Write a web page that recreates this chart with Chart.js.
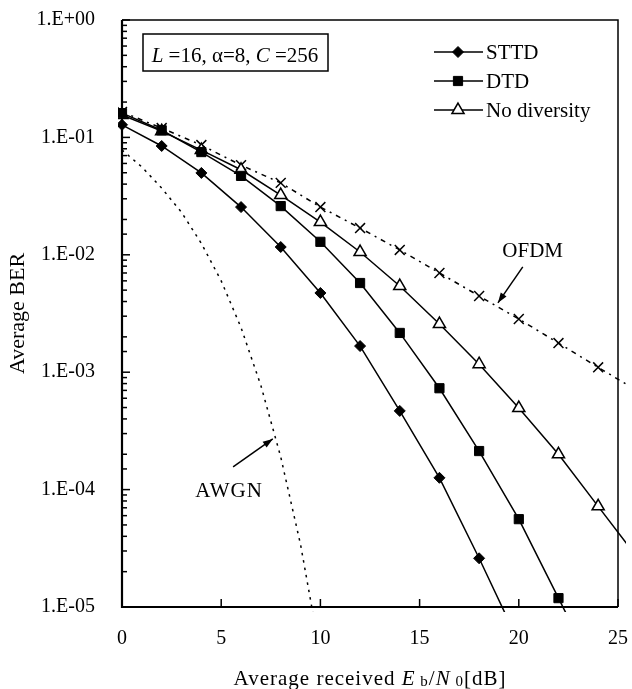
<!DOCTYPE html>
<html>
<head>
<meta charset="utf-8">
<script src="https://cdn.jsdelivr.net/npm/chart.js@4.4.0/dist/chart.umd.min.js"></script>
<style>
body { margin: 0; background: #fff; }
</style>
</head>
<body>
<canvas id="myChart" width="632" height="689"></canvas>
<script>
// Eb/N0 in dB
const snr = [0, 2, 4, 6, 8, 10, 12, 14, 16, 18, 20, 22, 24, 26];
const awgnSnr = [0, 1, 2, 3, 4, 5, 6, 7, 8, 9, 10];

const sttdBer = [0.128, 0.0845, 0.0498, 0.0255, 0.01165, 0.00473, 0.00167, 4.68e-4, 1.26e-4, 2.6e-5, 5e-6];
const dtdBer = [0.161, 0.115, 0.075, 0.047, 0.026, 0.0129, 0.00575, 0.00216, 7.3e-4, 2.13e-4, 5.6e-5, 1.19e-5, 2.5e-6];
const noDivBer = [0.155, 0.113, 0.078, 0.053, 0.0323, 0.019, 0.01056, 0.00542, 0.00257, 0.00117, 4.95e-4, 2.0e-4, 7.2e-5, 2.6e-5];
const ofdmBer = [0.165, 0.12, 0.086, 0.058, 0.041, 0.0255, 0.0169, 0.011, 0.007, 0.00446, 0.00284, 0.00177, 0.0011, 6.9e-4];
const awgnBer = [0.078, 0.056, 0.037, 0.023, 0.0125, 0.006, 0.0024, 7.7e-4, 1.9e-4, 3.4e-5, 3.9e-6];

const legendNames = ['STTD', 'DTD', 'No diversity'];

const serif = '"Liberation Serif", "Times New Roman", serif';

function toPoints(xs, ys) {
    return ys.map(function (v, i) { return { x: xs[i], y: v }; });
}

function drawRuns(ctx, runs, x, y, align) {
    let total = 0;
    runs.forEach(function (r) {
        ctx.font = r.font;
        r.w = ctx.measureText(r.t).width;
        total += r.w;
    });
    let cx = align === 'center' ? x - total / 2 : x;
    runs.forEach(function (r) {
        ctx.font = r.font;
        ctx.fillText(r.t, cx, y + (r.dy || 0));
        cx += r.w;
    });
}

function arrow(ctx, x1, y1, x2, y2) {
    ctx.beginPath();
    ctx.moveTo(x1, y1);
    ctx.lineTo(x2, y2);
    ctx.stroke();
    const a = Math.atan2(y2 - y1, x2 - x1);
    ctx.beginPath();
    ctx.moveTo(x2, y2);
    ctx.lineTo(x2 - 10 * Math.cos(a) + 3.5 * Math.sin(a), y2 - 10 * Math.sin(a) - 3.5 * Math.cos(a));
    ctx.lineTo(x2 - 10 * Math.cos(a) - 3.5 * Math.sin(a), y2 - 10 * Math.sin(a) + 3.5 * Math.cos(a));
    ctx.closePath();
    ctx.fill();
}

const clipArea = { left: 4, right: 8, top: 4, bottom: 5 };

const extras = {
    id: 'extras',
    afterDraw(chart) {
        const ctx = chart.ctx;
        const a = chart.chartArea;
        const xs = chart.scales.x;
        const ys = chart.scales.y;
        ctx.save();
        ctx.strokeStyle = '#000';
        ctx.fillStyle = '#000';

        // frame
        ctx.lineWidth = 1.5;
        ctx.beginPath();
        ctx.moveTo(a.left, a.top);
        ctx.lineTo(a.right, a.top);
        ctx.lineTo(a.right, a.bottom);
        ctx.stroke();
        ctx.lineWidth = 2.2;
        ctx.beginPath();
        ctx.moveTo(a.left, a.top);
        ctx.lineTo(a.left, a.bottom);
        ctx.lineTo(a.right, a.bottom);
        ctx.stroke();

        // inward tick marks
        ctx.lineWidth = 1.5;
        ys.ticks.forEach(function (t) {
            const e = Math.log10(t.value);
            const major = Math.abs(e - Math.round(e)) < 1e-9;
            const py = ys.getPixelForValue(t.value);
            ctx.beginPath();
            ctx.moveTo(a.left, py);
            ctx.lineTo(a.left + (major ? 8 : 5), py);
            ctx.stroke();
        });
        xs.ticks.forEach(function (t) {
            const px = xs.getPixelForValue(t.value);
            ctx.beginPath();
            ctx.moveTo(px, a.bottom);
            ctx.lineTo(px, a.bottom - 8);
            ctx.stroke();
        });

        // parameter box
        ctx.lineWidth = 1.5;
        ctx.strokeRect(143, 34, 185, 37);
        ctx.textBaseline = 'alphabetic';
        const f = '21px ' + serif;
        const fi = 'italic 21px ' + serif;
        drawRuns(ctx, [
            { t: 'L', font: fi }, { t: ' =16, \u03B1=8, ', font: f },
            { t: 'C', font: fi }, { t: ' =256', font: f }
        ], 235, 62, 'center');

        // legend
        chart.data.datasets.slice(0, 3).forEach(function (ds, i) {
            const ly = 52 + i * 29;
            ctx.lineWidth = 1.5;
            ctx.strokeStyle = '#000';
            ctx.beginPath();
            ctx.moveTo(434, ly);
            ctx.lineTo(483, ly);
            ctx.stroke();
            ctx.fillStyle = ds.pointBackgroundColor;
            ctx.lineWidth = ds.pointBorderWidth;
            Chart.helpers.drawPoint(ctx, {
                pointStyle: ds.pointStyle, radius: ds.pointRadius,
                borderWidth: ds.pointBorderWidth, rotation: 0
            }, 458, ly);
            ctx.fillStyle = '#000';
            ctx.font = '21px ' + serif;
            ctx.textAlign = 'left';
            ctx.fillText(legendNames[i], 486, ly + 7);
        });

        // curve labels and arrows
        ctx.lineWidth = 1.5;
        ctx.font = '21px ' + serif;
        ctx.textAlign = 'center';
        ctx.fillText('OFDM', xs.getPixelForValue(20.7), ys.getPixelForValue(0.0095));
        arrow(ctx, xs.getPixelForValue(20.2), ys.getPixelForValue(7.9e-3),
            xs.getPixelForValue(18.95), ys.getPixelForValue(3.9e-3));
        ctx.letterSpacing = '1px';
        ctx.fillText('AWGN', xs.getPixelForValue(5.4), ys.getPixelForValue(8.6e-5));
        ctx.letterSpacing = '0px';
        arrow(ctx, xs.getPixelForValue(5.6), ys.getPixelForValue(1.56e-4),
            xs.getPixelForValue(7.6), ys.getPixelForValue(2.7e-4));

        // x axis title
        ctx.textAlign = 'left';
        ctx.letterSpacing = '1px';
        const g = '21px ' + serif;
        const gi = 'italic 21px ' + serif;
        const gs = '15px ' + serif;
        drawRuns(ctx, [
            { t: 'Average received ', font: g }, { t: 'E', font: gi },
            { t: ' b', font: gs, dy: 1 }, { t: '/', font: g }, { t: 'N', font: gi },
            { t: ' 0', font: gs, dy: 1 }, { t: '[dB]', font: g }
        ], (a.left + a.right) / 2, 685, 'center');
        ctx.restore();
    }
};

var ctx = document.getElementById('myChart').getContext('2d');
var chart = new Chart(ctx, {
    type: 'line',
    data: {
        datasets: [{
            label: 'STTD',
            data: toPoints(snr, sttdBer),
            borderColor: '#000',
            borderWidth: 1.5,
            pointStyle: 'rectRot',
            pointRadius: 5.5,
            pointBackgroundColor: '#000',
            pointBorderColor: '#000',
            pointBorderWidth: 1,
            clip: clipArea
        }, {
            label: 'DTD',
            data: toPoints(snr, dtdBer),
            borderColor: '#000',
            borderWidth: 1.5,
            pointStyle: 'rect',
            pointRadius: 6.5,
            pointBackgroundColor: '#000',
            pointBorderColor: '#000',
            pointBorderWidth: 1,
            clip: clipArea
        }, {
            label: 'No diversity',
            data: toPoints(snr, noDivBer),
            borderColor: '#000',
            borderWidth: 1.5,
            pointStyle: 'triangle',
            pointRadius: 7,
            pointBackgroundColor: '#fff',
            pointBorderColor: '#000',
            pointBorderWidth: 1.5,
            clip: clipArea
        }, {
            label: 'OFDM',
            data: toPoints(snr, ofdmBer),
            borderColor: '#000',
            borderWidth: 1.5,
            borderDash: [5, 5, 2, 5],
            pointStyle: 'crossRot',
            pointRadius: 7,
            pointBorderColor: '#000',
            pointBorderWidth: 1.5,
            clip: clipArea
        }, {
            label: 'AWGN',
            data: toPoints(awgnSnr, awgnBer),
            borderColor: '#000',
            borderWidth: 1.5,
            borderDash: [2.5, 5],
            pointRadius: 0,
            clip: clipArea
        }]
    },
    options: {
        responsive: false,
        animation: false,
        events: [],
        layout: { padding: { top: 20, right: 14, left: 0, bottom: 0 } },
        plugins: {
            legend: { display: false },
            tooltip: { enabled: false }
        },
        scales: {
            x: {
                type: 'linear',
                min: 0,
                max: 25,
                grid: { display: false },
                border: { display: false },
                ticks: {
                    stepSize: 5,
                    color: '#000',
                    padding: 12,
                    font: { family: serif, size: 20 }
                },
                afterFit: function (scale) {
                    scale.height = 82;
                    scale.paddingLeft = 0;
                    scale.paddingRight = 0;
                }
            },
            y: {
                type: 'logarithmic',
                min: 1e-5,
                max: 1,
                grid: { display: false },
                border: { display: false },
                ticks: {
                    autoSkip: false,
                    color: '#000',
                    padding: 19,
                    font: { family: serif, size: 20 },
                    callback: function (value) {
                        const e = Math.log10(value);
                        const r = Math.round(e);
                        if (Math.abs(e - r) > 1e-9) return '';
                        return '1.E' + (r < 0 ? '-' : '+') + String(Math.abs(r)).padStart(2, '0');
                    }
                },
                title: {
                    display: true,
                    text: 'Average BER',
                    color: '#000',
                    font: { family: serif, size: 22 },
                    padding: { top: 5, bottom: 0 }
                },
                afterFit: function (scale) {
                    scale.width = 122;
                    scale.paddingTop = 0;
                    scale.paddingBottom = 0;
                }
            }
        }
    },
    plugins: [extras]
});
</script>
</body>
</html>
